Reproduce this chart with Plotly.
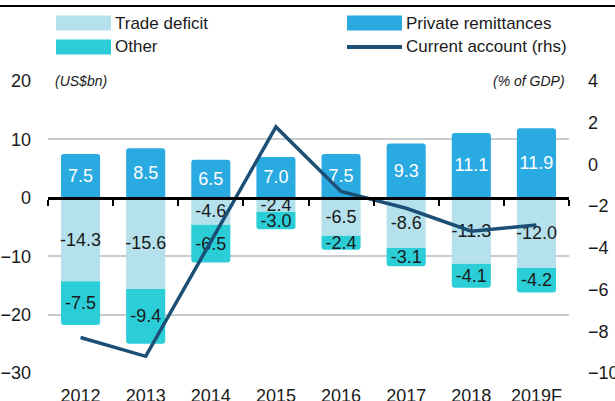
import plotly.graph_objects as go

years = ["2012", "2013", "2014", "2015", "2016", "2017", "2018", "2019F"]
trade_deficit = [-14.3, -15.6, -4.6, -2.4, -6.5, -8.6, -11.3, -12.0]
private_remittances = [7.5, 8.5, 6.5, 7.0, 7.5, 9.3, 11.1, 11.9]
other = [-7.5, -9.4, -6.5, -3.0, -2.4, -3.1, -4.1, -4.2]
current_account = [-8.3, -9.2, -3.7, 1.8, -1.3, -2.1, -3.2, -2.9]
left_ticks = [20, 10, 0, -10, -20, -30]
right_ticks = [4, 2, 0, -2, -4, -6, -8, -10]
series_names = ["Trade deficit", "Private remittances", "Other", "Current account (rhs)"]

FONT = "Liberation Sans Narrow, Arial Narrow, Liberation Sans, sans-serif"
C_TRADE = "#b5e1ec"
C_REMIT = "#29abe2"
C_OTHER = "#2bcdd7"
C_LINE = "#1b4f76"

# plot-area geometry (pixels)
W, H = 615, 401
L, R, T, B = 48, 46, 81, 28
PW, PH = W - L - R, H - T - B


def px_x(p):
    return (p - L) / PW


def px_y(p):
    return (H - B - p) / PH


fig = go.Figure()
bar_common = dict(texttemplate="%{y:.1f}", textposition="inside", insidetextanchor="middle",
                  constraintext="none", textangle=0, showlegend=False)
fig.add_bar(x=years, y=trade_deficit, name=series_names[0],
            marker=dict(color=C_TRADE, line=dict(width=0), cornerradius=3),
            textfont=dict(color="#1a1a1a", size=18, family=FONT), **bar_common)
fig.add_bar(x=years, y=private_remittances, name=series_names[1],
            marker=dict(color=C_REMIT, line=dict(width=0), cornerradius=3),
            textfont=dict(color="white", size=18, family=FONT), **bar_common)
fig.add_bar(x=years, y=other, name=series_names[2],
            marker=dict(color=C_OTHER, line=dict(width=0), cornerradius=3),
            textfont=dict(color="#1a1a1a", size=18, family=FONT), **bar_common)
fig.add_scatter(x=years, y=current_account, xaxis="x2", yaxis="y2", mode="lines", showlegend=False,
                line=dict(color=C_LINE, width=3.5), name=series_names[3])

# legend built from the series names/colours (two columns, wide swatches)
legend_colors = [C_TRADE, C_REMIT, C_OTHER, C_LINE]
legend_kinds = ["bar", "bar", "bar", "line"]
col_x = [56, 347]
row_y = [23, 47]
shapes = [dict(type="line", xref="paper", yref="paper", x0=px_x(0) - 0.01, x1=px_x(W) + 0.01,
               y0=px_y(6), y1=px_y(6), line=dict(color="black", width=2))]
annotations = []
for i, (name, col, kind) in enumerate(zip(series_names, legend_colors, legend_kinds)):
    cx = col_x[i % 2]
    cy = row_y[i // 2]
    if kind == "bar":
        shapes.append(dict(type="rect", xref="paper", yref="paper", x0=px_x(cx), x1=px_x(cx + 55),
                           y0=px_y(cy - 7.5), y1=px_y(cy + 7.5), fillcolor=col, line=dict(width=0)))
    else:
        shapes.append(dict(type="line", xref="paper", yref="paper", x0=px_x(cx), x1=px_x(cx + 55),
                           y0=px_y(cy), y1=px_y(cy), line=dict(color=col, width=4)))
    annotations.append(dict(text=name, xref="paper", yref="paper", x=px_x(cx + 57), y=px_y(cy),
                            xanchor="left", yanchor="middle", showarrow=False,
                            font=dict(size=17, family=FONT, color="#1a1a1a")))

annotations += [
    dict(text="<i>(US$bn)</i>", xref="paper", yref="y", x=px_x(51), y=20, xanchor="left",
         showarrow=False, bgcolor="white", borderpad=3, font=dict(size=14, family=FONT)),
    dict(text="<i>(% of GDP)</i>", xref="paper", yref="y", x=px_x(569), y=20, xanchor="right",
         showarrow=False, bgcolor="white", borderpad=3, font=dict(size=14, family=FONT)),
]

fig.update_layout(
    width=W, height=H,
    margin=dict(l=L, r=R, t=T, b=B, autoexpand=False),
    plot_bgcolor="white", paper_bgcolor="white",
    font=dict(family=FONT, size=18, color="#1a1a1a"),
    barmode="relative", bargap=0.4,
    showlegend=False,
    xaxis=dict(type="category", showgrid=False, zeroline=False, showline=False, ticks="",
               tickfont=dict(size=18), ticklabelstandoff=10, automargin=False),
    xaxis2=dict(type="category", overlaying="x", matches="x", anchor="free", position=0.6,
                showline=True, linecolor="black", linewidth=2.5, ticks="outside", tickson="boundaries",
                ticklen=6, tickwidth=2, tickcolor="black", showticklabels=False, showgrid=False,
                zeroline=False, automargin=False),
    yaxis=dict(range=[-30, 20], tickvals=left_ticks, showgrid=True, gridcolor="#c9cccc", gridwidth=2,
               zeroline=False, showline=False, ticks="", ticklabelstandoff=16, tickfont=dict(size=18),
               automargin=False),
    yaxis2=dict(range=[-10, 4], tickvals=right_ticks, overlaying="y", side="right", anchor="x",
                showgrid=False, zeroline=False, showline=False, ticks="", ticklabelstandoff=18,
                tickfont=dict(size=18), automargin=False),
    shapes=shapes,
    annotations=annotations,
)

fig.write_html("out.html", config={"displayModeBar": False},
               post_script="document.body.style.margin='0';")
